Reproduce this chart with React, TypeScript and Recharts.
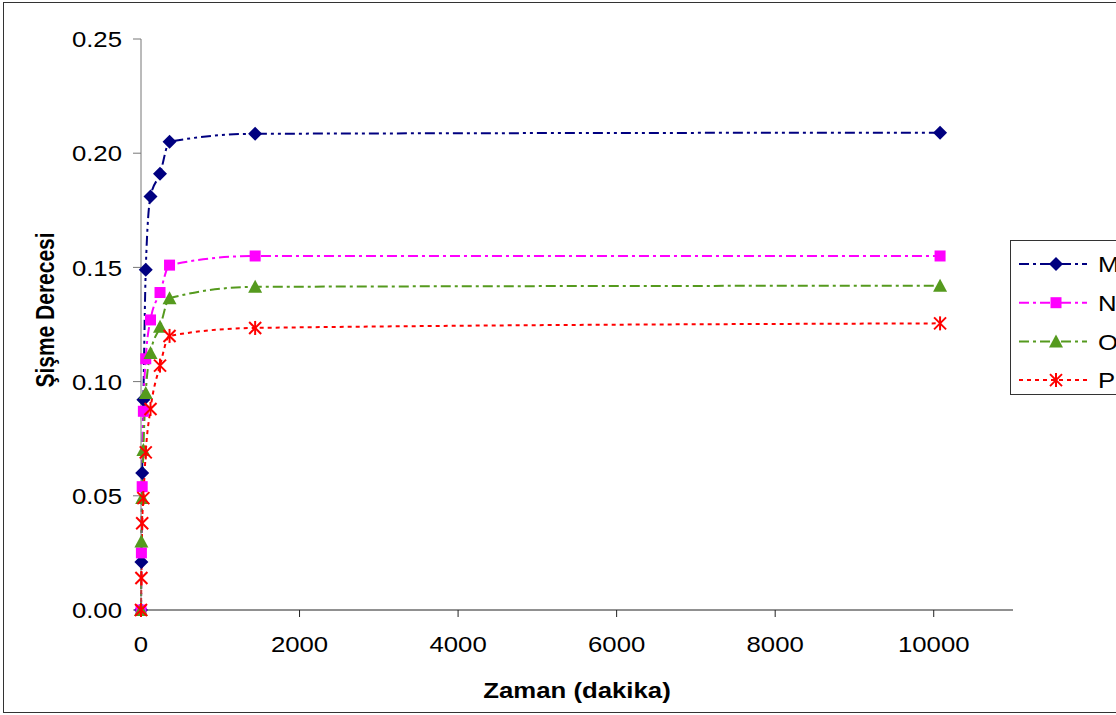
import React from 'react';
import { LineChart, Line, XAxis, YAxis, Label } from 'recharts';

// swelling degree measured over time (minutes)
const times = [0, 5, 15, 30, 60, 120, 240, 360, 1440, 10080];
const seriesM = [0, 0.021, 0.06, 0.092, 0.149, 0.181, 0.191, 0.205, 0.2085, 0.209];
const seriesN = [0, 0.025, 0.054, 0.087, 0.11, 0.127, 0.139, 0.151, 0.155, 0.155];
const seriesO = [0, 0.03, 0.049, 0.07, 0.095, 0.1125, 0.124, 0.1365, 0.1415, 0.142];
const seriesP = [0, 0.014, 0.038, 0.049, 0.069, 0.088, 0.107, 0.12, 0.1235, 0.1255];
const xTicks = [0, 2000, 4000, 6000, 8000, 10000];
const yTicks = [0, 0.05, 0.1, 0.15, 0.2, 0.25];

const data = times.map((t, i) => ({
  t,
  M: seriesM[i],
  N: seriesN[i],
  O: seriesO[i],
  P: seriesP[i],
}));

const NAVY = '#000080';
const PINK = '#FF00FF';
const GREEN = '#559A1E';
const RED = '#FF0000';
const font = 'Liberation Sans, Arial, sans-serif';
const SX = 1.12; // the original is a bit stretched sideways

const Diamond = ({ cx, cy }: any) => (
  <polygon points={`${cx},${cy - 7} ${cx + 7},${cy} ${cx},${cy + 7} ${cx - 7},${cy}`} fill={NAVY} />
);
const Square = ({ cx, cy }: any) => <rect x={cx - 5.5} y={cy - 5.5} width={11} height={11} fill={PINK} />;
const Triangle = ({ cx, cy }: any) => (
  <polygon points={`${cx},${cy - 7} ${cx + 7},${cy + 6} ${cx - 7},${cy + 6}`} fill={GREEN} />
);
const Star = ({ cx, cy }: any) => (
  <g stroke={RED} strokeWidth={2}>
    <line x1={cx - 6} y1={cy - 6} x2={cx + 6} y2={cy + 6} />
    <line x1={cx - 6} y1={cy + 6} x2={cx + 6} y2={cy - 6} />
    <line x1={cx} y1={cy - 7} x2={cx} y2={cy + 7} />
  </g>
);

const XTick = ({ x, y, payload }: any) => (
  <text transform={`translate(${x},${y}) scale(${SX},1)`} textAnchor="middle" dy="0.71em" fontSize={23} fontFamily={font} fill="#000">
    {payload.value}
  </text>
);
const YTick = ({ x, y, payload }: any) => (
  <text transform={`translate(${x},${y}) scale(${SX},1)`} textAnchor="end" dy="0.36em" fontSize={23} fontFamily={font} fill="#000">
    {Number(payload.value).toFixed(2)}
  </text>
);

const legendItems = [
  { name: 'M', color: NAVY, dash: '10 4 3 4', Mark: Diamond },
  { name: 'N', color: PINK, dash: '10 4 3 4', Mark: Square },
  { name: 'O', color: GREEN, dash: '10 4 3 4', Mark: Triangle },
  { name: 'P', color: RED, dash: '4 4', Mark: Star },
];

const LegendBox = () => (
  <div style={{ position: 'absolute', left: 1010, top: 240, width: 120, height: 155, border: '1px solid #333', background: '#fff', boxSizing: 'border-box' }}>
    <svg width={120} height={155}>
      {legendItems.map((it, i) => {
        const y = 23 + i * 38.7;
        return (
          <g key={it.name}>
            <line x1={8} x2={76} y1={y} y2={y} stroke={it.color} strokeWidth={2} strokeDasharray={it.dash} />
            <it.Mark cx={45} cy={y} />
            <text transform={`translate(87,${y}) scale(${SX},1)`} dy="0.36em" fontSize={23} fontFamily={font} fill="#000">
              {it.name}
            </text>
          </g>
        );
      })}
    </svg>
  </div>
);

export default function App() {
  return (
    <div style={{ position: 'absolute', left: 0, top: 0, width: 1116, height: 715, overflow: 'hidden', background: '#fff' }}>
      <div style={{ position: 'absolute', left: 3, top: 2, width: 1130, height: 709, border: '1px solid #333' }} />
      <LineChart width={1116} height={715} data={data} margin={{ top: 39, right: 103, bottom: 45, left: 61 }}>
        <XAxis
          dataKey="t"
          type="number"
          domain={[0, 11000]}
          ticks={xTicks}
          stroke="#222"
          tickSize={7}
          tickMargin={19}
          tick={<XTick />}
          height={60}
        >
          <Label
            content={() => (
              <text transform={`translate(577,690) scale(${SX},1)`} textAnchor="middle" dy="0.36em" fontSize={23} fontWeight="bold" fontFamily={font} fill="#000">
                Zaman (dakika)
              </text>
            )}
          />
        </XAxis>
        <YAxis
          type="number"
          domain={[0, 0.25]}
          ticks={yTicks}
          stroke="#777"
          tickSize={8}
          tickMargin={11}
          width={80}
          tick={<YTick />}
        >
          <Label
            content={() => (
              <text transform="translate(45,310) rotate(-90) scale(1,1.2)" textAnchor="middle" dy="0.36em" fontSize={21} fontWeight="bold" fontFamily={font} fill="#000">
                Şişme Derecesi
              </text>
            )}
          />
        </YAxis>
        <Line type="monotone" dataKey="M" stroke={NAVY} strokeWidth={2} strokeDasharray="10 4 3 4 3 4" dot={<Diamond />} activeDot={false} isAnimationActive={false} />
        <Line type="monotone" dataKey="N" stroke={PINK} strokeWidth={2} strokeDasharray="10 4 3 4" dot={<Square />} activeDot={false} isAnimationActive={false} />
        <Line type="monotone" dataKey="O" stroke={GREEN} strokeWidth={2} strokeDasharray="10 4 3 4" dot={<Triangle />} activeDot={false} isAnimationActive={false} />
        <Line type="monotone" dataKey="P" stroke={RED} strokeWidth={2} strokeDasharray="4 4" dot={<Star />} activeDot={false} isAnimationActive={false} />
      </LineChart>
      <LegendBox />
    </div>
  );
}
